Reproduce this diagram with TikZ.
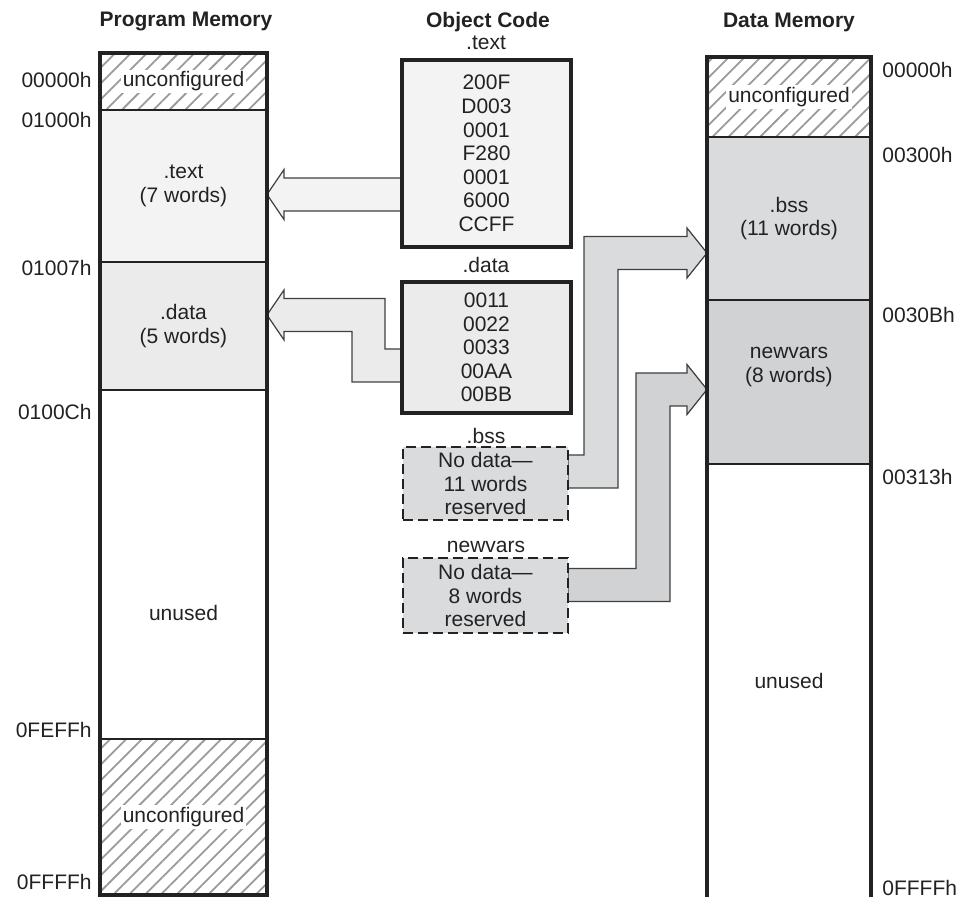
\documentclass[tikz,border=0pt]{standalone}
\usepackage{fontspec}
\setmainfont{Liberation Sans}
\usetikzlibrary{patterns.meta, calc, backgrounds}
\definecolor{cink}{HTML}{222222}
\definecolor{ctext}{HTML}{F3F3F3}
\definecolor{cdata}{HTML}{EBEBEB}
\definecolor{cbss}{HTML}{DADBDC}
\definecolor{cnew}{HTML}{D1D2D3}
\definecolor{chatch}{HTML}{9A9A9A}
\tikzset{
  every picture/.style={font=\fontsize{10.5}{11.8}\selectfont, text=cink},
  sec/.style={draw=cink, line width=0.75pt, inner sep=0pt, outer sep=0pt, align=center, anchor=north west, minimum width=#1},
  sec/.default=83.5pt,
  hatched/.style={pattern={Lines[angle=45, distance=5.6pt, line width=0.9pt]}, pattern color=chatch},
  blank/.style={fill=white, inner sep=1pt},
  obj/.style={draw=cink, line width=1.8pt, minimum width=84.5pt, inner sep=0pt, outer sep=0pt, align=center},
  resv/.style={obj, line width=1.4pt, dash pattern=on 5pt off 2.5pt, minimum width=82.5pt, fill=cbss},
  frame/.style={draw=cink, line width=2pt},
  fat/.style={draw=black!75, line width=0.6pt, line join=miter},
  head/.style={font=\bfseries\fontsize{10.5}{11.8}\selectfont},
  addr/.style={inner sep=0pt},
}

\begin{document}
\begin{tikzpicture}[x=0.5pt, y=-0.5pt]
  \useasboundingbox (0,0) rectangle (960,897);
  % headings
  \node[head] (hprog) at (186,22) {Program Memory};
  \node[head] (hobj) at (488,22) {Object Code};
  \node[head] (hdata) at (789,22) {Data Memory};

  % program memory
  \node[sec, hatched, minimum height=28.5pt] (pun1) at (100,53) {};
  \node[sec, fill=ctext, minimum height=76pt] (ptext) at (100,110) {.text\\(7 words)};
  \node[sec, fill=cdata, minimum height=64pt] (pdata) at (100,262) {.data\\(5 words)};
  \node[sec, minimum height=174.5pt] (punused) at (100,390) {};
  \node[sec, hatched, minimum height=78pt] (pun2) at (100,739) {};
  \node[blank] (pun1txt) at (pun1) {unconfigured};
  \node[blank] (pun2txt) at (pun2) {unconfigured};
  \node (punusedtxt) at (183.5,613) {unused};
  \draw[frame] (pun1.north west) rectangle (pun2.south east);
  \foreach \y/\a in {80/00000h, 120/01000h, 268/01007h, 412/0100Ch, 730/0FEFFh, 882/0FFFFh}
    \node[addr, anchor=east] (pa\a) at (92,\y) {\a};

  % data memory
  \node[sec=82pt, hatched, minimum height=40pt] (dun) at (707,57) {};
  \node[sec=82pt, fill=cbss, minimum height=81.5pt] (dbss) at (707,137) {.bss\\(11 words)};
  \node[sec=82pt, fill=cnew, minimum height=82pt] (dnew) at (707,300) {};
  \node[sec=82pt, draw=none, minimum height=216.5pt] (dunused) at (707,464) {unused};
  \node[blank] (duntxt) at (dun) {unconfigured};
  \node[align=center] (dnewtxt) at (789,367) {newvars\\(8 words)};
  \draw[frame] (dunused.south west) |- (dun.north east) -- (dunused.south east);
  \foreach \y/\a in {70/00000h, 155/00300h, 315/0030Bh, 477/00313h, 888/0FFFFh}
    \node[addr, anchor=west] (da\a) at (882,\y) {\a};

  % object code
  \node (ltext) at (486,43) {.text};
  \node[obj, fill=ctext, minimum height=93.5pt] (otext) at (486.5,153.5) {200F\\D003\\0001\\F280\\0001\\6000\\CCFF};
  \node (ldata) at (486,265) {.data};
  \node[obj, fill=cdata, minimum height=65.5pt] (odata) at (486.5,347.5) {0011\\0022\\0033\\00AA\\00BB};
  \node (lbss) at (486,436) {.bss};
  \node[resv, minimum height=36.5pt] (obss) at (485.5,483.5) {No data—\\11 words\\reserved};
  \node (lnew) at (486,547) {newvars};
  \node[resv, minimum height=37.5pt] (onew) at (485.5,595.5) {No data—\\8 words\\reserved};

  % section arrows
  \coordinate (atext) at (otext.west |- 0,194.5);
  \coordinate (ttext) at (ptext.east |- atext);
  \coordinate (adata) at (odata.west |- 0,365.5);
  \coordinate (tdata) at (pdata.east |- 0,315);
  \coordinate (abss) at (obss.east |- 0,471.5);
  \coordinate (tbss) at (dbss.west |- 0,253);
  \coordinate (anew) at (onew.east |- 0,585);
  \coordinate (tnew) at (dnew.west |- 0,389.5);
  \begin{scope}[on background layer]
    \draw[fat, fill=ctext] ($(atext)+(0,-16.5)$) -- ($(ttext)+(17,-16.5)$) -- ++(0,-8.5) -- (ttext)
      -- ++(17,25) -- ++(0,-8.5) -- ($(atext)+(0,16.5)$) -- cycle;
    \draw[fat, fill=cdata] ($(adata)+(0,-16.5)$) -- ++(-17,0) -- ($(tdata)+(118,-16.5)$) -- ($(tdata)+(17,-16.5)$)
      -- ++(0,-8.5) -- (tdata) -- ++(17,25) -- ++(0,-8.5) -- ($(tdata)+(85,16.5)$) -- ($(adata)+(-50,16.5)$)
      -- ($(adata)+(0,16.5)$) -- cycle;
    \draw[fat, fill=cbss] ($(abss)+(0,-16.5)$) -- ++(16,0) -- ($(tbss)+(-123,-16.5)$) -- ($(tbss)+(-20,-16.5)$)
      -- ++(0,-8.5) -- (tbss) -- ++(-20,25) -- ++(0,-8.5) -- ($(tbss)+(-89,16.5)$) -- ($(abss)+(50,16.5)$)
      -- ($(abss)+(0,16.5)$) -- cycle;
    \draw[fat, fill=cnew] ($(anew)+(0,-16.5)$) -- ++(68,0) -- ($(tnew)+(-71,-16.5)$) -- ($(tnew)+(-20,-16.5)$)
      -- ++(0,-8.5) -- (tnew) -- ++(-20,25) -- ++(0,-8.5) -- ($(tnew)+(-37,16.5)$) -- ($(anew)+(102,16.5)$)
      -- ($(anew)+(0,16.5)$) -- cycle;
  \end{scope}
\end{tikzpicture}
\end{document}
